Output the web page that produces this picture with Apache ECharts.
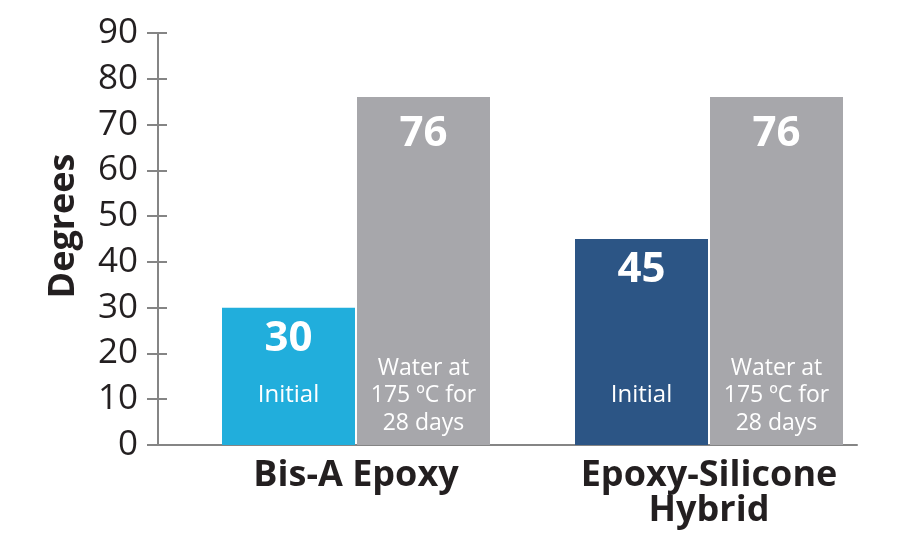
<!DOCTYPE html>
<html><head><meta charset="utf-8">
<script src="https://cdn.jsdelivr.net/npm/echarts@6/dist/echarts.min.js"></script>
<style>html,body{margin:0;padding:0;background:#fff}#c{width:900px;height:550px}</style>
</head><body><div id="c"></div>
<script>
const categories = ['Bis-A Epoxy', 'Epoxy-Silicone\nHybrid'];
const initialValues = [30, 45];
const waterValues = [76, 76];
const initialNote = 'Initial';
const waterNote = 'Water at\n175 ºC for\n28 days';
const yTicks = [0, 10, 20, 30, 40, 50, 60, 70, 80, 90];
const initialColors = ['#21aedc', '#2c5585'];
const grayColor = '#a7a7ab';
const textDark = '#231f20';
const axisGray = '#858585';
const font = '"Open Sans", sans-serif';

const yMin = yTicks[0], yMax = yTicks[yTicks.length - 1], yStep = yTicks[1] - yTicks[0];

const chart = echarts.init(document.getElementById('c'));
const gTop = 33, gBottom = 105;
chart.setOption({
  animation: false,
  grid: [
    { left: 179.5, right: 14.5, top: gTop, bottom: gBottom },
    { left: 158, right: 43, top: gTop, bottom: gBottom }
  ],
  xAxis: [
    { type: 'category', gridIndex: 0, data: categories,
      axisLine: { show: false }, axisTick: { show: false },
      axisLabel: { color: textDark, fontFamily: font, fontWeight: 'bold', fontSize: 36, lineHeight: 35, margin: 13 } },
    { type: 'category', gridIndex: 0, data: categories, show: false },
    { type: 'value', gridIndex: 1, min: 0, max: 1,
      axisLine: { show: true, lineStyle: { color: axisGray, width: 2 } },
      axisTick: { show: false }, axisLabel: { show: false }, splitLine: { show: false } }
  ],
  yAxis: [
    { type: 'value', gridIndex: 0, min: yMin, max: yMax, interval: yStep, show: false },
    { type: 'value', gridIndex: 1, position: 'left', min: yMin, max: yMax, interval: yStep,
      name: 'Degrees', nameLocation: 'middle', nameGap: 76, nameRotate: 90,
      nameTextStyle: { color: textDark, fontFamily: font, fontWeight: 'bold', fontSize: 36, padding: [0, 0, 0, 26] },
      axisLine: { show: true, lineStyle: { color: axisGray, width: 2 } },
      axisTick: { show: true, length: 11, lineStyle: { color: axisGray, width: 2 } },
      axisLabel: { color: textDark, fontFamily: font, fontSize: 35, margin: 20 },
      splitLine: { show: false } },
    { type: 'value', gridIndex: 1, position: 'left', min: yMin, max: yMax, interval: yStep,
      axisLine: { show: false },
      axisTick: { show: true, inside: true, length: 9, lineStyle: { color: axisGray, width: 2 } },
      axisLabel: { show: false }, splitLine: { show: false } }
  ],
  series: [
    { type: 'bar', xAxisIndex: 0, yAxisIndex: 0, barWidth: 133, barGap: '1.5%',
      data: initialValues.map((v, i) => ({ value: v, itemStyle: { color: initialColors[i] } })),
      label: { show: true, position: 'insideTop', distance: 10, color: '#fff', fontFamily: font, fontWeight: 'bold', fontSize: 42 } },
    { type: 'bar', xAxisIndex: 0, yAxisIndex: 0, barWidth: 133, barGap: '1.5%',
      data: waterValues, itemStyle: { color: grayColor },
      label: { show: true, position: 'insideTop', distance: 16, color: '#fff', fontFamily: font, fontWeight: 'bold', fontSize: 42 } },
    { type: 'bar', xAxisIndex: 1, yAxisIndex: 0, barWidth: 133, barGap: '1.5%',
      data: initialValues, itemStyle: { color: 'rgba(0,0,0,0)' }, silent: true,
      label: { show: true, position: 'insideBottom', distance: 36, formatter: initialNote, color: '#fff', fontFamily: font, fontSize: 24, lineHeight: 27 } },
    { type: 'bar', xAxisIndex: 1, yAxisIndex: 0, barWidth: 133, barGap: '1.5%',
      data: waterValues, itemStyle: { color: 'rgba(0,0,0,0)' }, silent: true,
      label: { show: true, position: 'insideBottom', distance: 8, formatter: waterNote, color: '#fff', fontFamily: font, fontSize: 23, lineHeight: 27.5 } }
  ]
});
</script></body></html>
